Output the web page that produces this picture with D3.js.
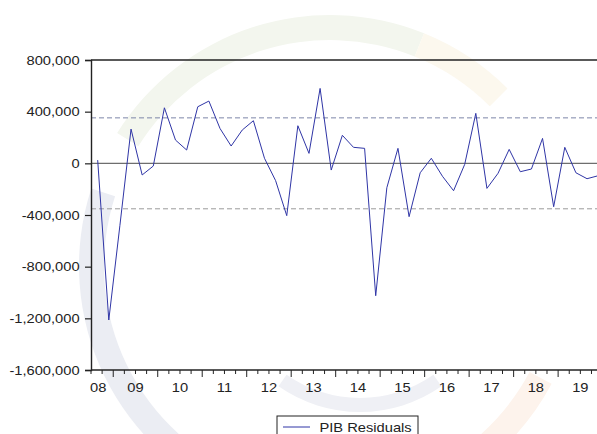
<!DOCTYPE html>
<html>
<head>
<meta charset="utf-8">
<script src="https://cdn.jsdelivr.net/npm/d3@7"></script>
<style>
  html, body { margin: 0; padding: 0; background: #fff; }
  svg { display: block; font-family: "Liberation Sans", Arial, sans-serif; }
</style>
</head>
<body>
<svg id="chart" width="597" height="434"></svg>
<script>
// Quarterly periods, 2008Q3 .. 2019Q4
const periods = [
  "2008Q3","2008Q4",
  "2009Q1","2009Q2","2009Q3","2009Q4",
  "2010Q1","2010Q2","2010Q3","2010Q4",
  "2011Q1","2011Q2","2011Q3","2011Q4",
  "2012Q1","2012Q2","2012Q3","2012Q4",
  "2013Q1","2013Q2","2013Q3","2013Q4",
  "2014Q1","2014Q2","2014Q3","2014Q4",
  "2015Q1","2015Q2","2015Q3","2015Q4",
  "2016Q1","2016Q2","2016Q3","2016Q4",
  "2017Q1","2017Q2","2017Q3","2017Q4",
  "2018Q1","2018Q2","2018Q3","2018Q4",
  "2019Q1","2019Q2","2019Q3","2019Q4"
];

// PIB regression residuals
const residuals = [
  25000, -1213000,
  -480000, 265000, -90000, -21000,
  430000, 180000, 103000, 438000,
  482000, 270000, 134000, 258000,
  330000, 39000, -134000, -405000,
  291000, 77000, 580000, -52000,
  217000, 124000, 116000, -1025000,
  -189000, 116000, -413000, -73000,
  39000, -100000, -212000, -8000,
  387000, -194000, -77000, 108000,
  -65000, -44000, 193000, -336000,
  124000, -73000, -119000, -96000
];

// Two standard-error band
const bandValues = [352000, -352000];

const yTicks = [800000, 400000, 0, -400000, -800000, -1200000, -1600000];
const yearLabels = ["08","09","10","11","12","13","14","15","16","17","18","19"];

(function () {
const svg = d3.select("#chart");
const plotLeft = 91, plotTop = 60, plotBottom = 370, plotRight = 602.6;
const sx = 1.13; // horizontal stretch of the lettering

// ---- faint circular logo in the background ----
const deg = Math.PI / 180;
const logo = svg.append("g").attr("transform", "translate(330,266)");
const ring = d3.arc().innerRadius(226).outerRadius(251);
const segments = [
  { a0: -58, a1: 22, color: "#f3f6ee" },
  { a0: 22, a1: 45, color: "#fcf8ee" },
  { a0: -160, a1: -72, color: "#ebedf3" },
  { a0: 118, a1: 160, color: "#fdf3ec" }
];
segments.forEach(s => {
  logo.append("path")
    .attr("d", ring({ startAngle: s.a0 * deg, endAngle: s.a1 * deg }))
    .attr("fill", s.color);
});
const inner = svg.append("g").attr("transform", "translate(360,270)");
inner.append("path")
  .attr("d", d3.arc().innerRadius(128).outerRadius(142)({ startAngle: 145 * deg, endAngle: 215 * deg }))
  .attr("fill", "#eff0f5");

// ---- scales ----
const x = d3.scaleLinear().domain([0, periods.length]).range([plotLeft, plotRight]);
const y = d3.scaleLinear().domain([-1600000, 800000]).range([plotBottom, plotTop]);
const px = i => x(i + 0.6);

// ---- band and zero lines ----
svg.append("line")
  .attr("x1", plotLeft).attr("x2", plotRight)
  .attr("y1", y(bandValues[0])).attr("y2", y(bandValues[0]))
  .attr("stroke", "#7c85a8").attr("stroke-width", 1)
  .attr("stroke-dasharray", "5,3");
svg.append("line")
  .attr("x1", plotLeft).attr("x2", plotRight)
  .attr("y1", y(bandValues[1])).attr("y2", y(bandValues[1]))
  .attr("stroke", "#9a9a9a").attr("stroke-width", 1)
  .attr("stroke-dasharray", "5,3");
svg.append("line")
  .attr("x1", plotLeft).attr("x2", plotRight)
  .attr("y1", y(0)).attr("y2", y(0))
  .attr("stroke", "#6e6e6e").attr("stroke-width", 1.4);

// ---- residual series ----
const line = d3.line().x((d, i) => px(i)).y(d => y(d));
svg.append("path")
  .datum(residuals)
  .attr("d", line)
  .attr("fill", "none")
  .attr("stroke", "#2f35a6")
  .attr("stroke-width", 1)
  .attr("stroke-linejoin", "miter");

// ---- frame ----
svg.append("line")
  .attr("x1", plotLeft).attr("x2", plotRight).attr("y1", plotTop).attr("y2", plotTop)
  .attr("stroke", "#222").attr("stroke-width", 1.4);

// ---- y axis ----
const fmt = d3.format(",.0f");
const yAxis = d3.axisLeft(y).tickValues(yTicks).tickSize(6).tickPadding(5)
  .tickFormat(d => fmt(d).replace("\u2212", "-"));
const gy = svg.append("g").attr("transform", `translate(${plotLeft},0)`).call(yAxis);
gy.select(".domain").attr("stroke", "#222").attr("stroke-width", 1.4);
gy.selectAll(".tick line").attr("stroke", "#222").attr("stroke-width", 1.2);
gy.selectAll(".tick text")
  .attr("font-size", 13).attr("fill", "#222")
  .attr("font-family", "Liberation Sans, Arial, sans-serif")
  .attr("transform", `scale(${sx},1)`)
  .attr("x", -11.4 / sx);

// ---- x axis (quarter ticks, longer ticks at year starts) ----
const gx = svg.append("g");
gx.append("line")
  .attr("x1", plotLeft).attr("x2", plotRight).attr("y1", plotBottom).attr("y2", plotBottom)
  .attr("stroke", "#222").attr("stroke-width", 1.4);
d3.range(0, periods.length + 1).forEach(q => {
  const isYear = periods[q] ? periods[q].endsWith("Q1") : true;
  gx.append("line")
    .attr("x1", x(q)).attr("x2", x(q))
    .attr("y1", plotBottom).attr("y2", plotBottom + (isYear ? 7 : 4))
    .attr("stroke", "#222").attr("stroke-width", 1);
});
yearLabels.forEach(lab => {
  const year = 2000 + (+lab);
  const firstIdx = periods.findIndex(p => p.startsWith(String(year)));
  const qStart = firstIdx - (+periods[firstIdx].slice(5) - 1);
  let cx = x(qStart + 2);
  const t = gx.append("text")
    .text(lab)
    .attr("font-size", 13).attr("fill", "#222")
    .attr("text-anchor", "middle");
  const half = t.node().getComputedTextLength() * sx / 2;
  cx = Math.max(cx, plotLeft + half - 1);
  t.attr("transform", `translate(${cx},391.5) scale(${sx},1)`);
});

// ---- legend ----
const lg = svg.append("g");
lg.append("rect")
  .attr("x", 277).attr("y", 416).attr("width", 141).attr("height", 30)
  .attr("fill", "#fff").attr("stroke", "#222").attr("stroke-width", 1);
lg.append("line")
  .attr("x1", 283).attr("x2", 310).attr("y1", 427).attr("y2", 427)
  .attr("stroke", "#2f35a6").attr("stroke-width", 1);
lg.append("text")
  .text("PIB Residuals")
  .attr("font-size", 13).attr("fill", "#222")
  .attr("transform", `translate(319.5,432) scale(${sx},1)`);
})();
</script>
</body>
</html>
